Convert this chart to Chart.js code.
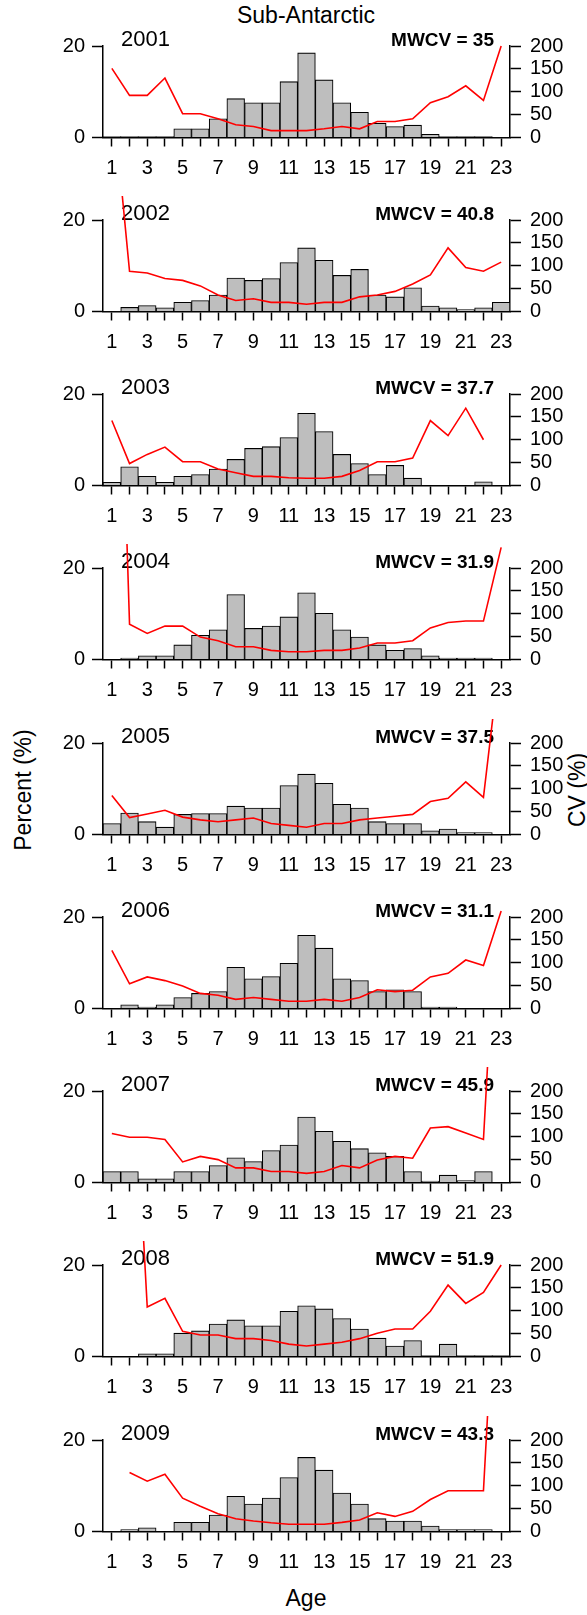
<!DOCTYPE html>
<html>
<head>
<meta charset="utf-8">
<script src="https://cdn.jsdelivr.net/npm/chart.js@4/dist/chart.umd.min.js"></script>
<style>
html,body{margin:0;padding:0;background:#fff;}
body{width:587px;height:1615px;position:relative;overflow:hidden;font-family:"Liberation Sans",Arial,sans-serif;color:#000;}
canvas{position:absolute;left:0;}
.lbl{position:absolute;white-space:nowrap;font-size:23px;line-height:1;}
</style>
</head>
<body>
<div class="lbl" style="left:306px;top:15px;transform:translate(-50%,-50%);">Sub-Antarctic</div>
<div class="lbl" style="left:23px;top:790px;transform:translate(-50%,-50%) rotate(-90deg);">Percent (%)</div>
<div class="lbl" style="left:577px;top:790px;transform:translate(-50%,-50%) rotate(-90deg);">CV (%)</div>
<div class="lbl" style="left:306px;top:1598px;transform:translate(-50%,-50%);">Age</div>
<div id="wrap"></div>
<script>
const ages = ['1','2','3','4','5','6','7','8','9','10','11','12','13','14','15','16','17','18','19','20','21','22','23'];
const years = ['2001','2002','2003','2004','2005','2006','2007','2008','2009'];
const mwcv = ['35','40.8','37.7','31.9','37.5','31.1','45.9','51.9','43.3'];

const pct2001 = [0.2,0.2,0.2,0.2,1.9,1.9,4.1,8.5,7.6,7.6,12.2,18.5,12.6,7.6,5.5,3.1,2.4,2.7,0.7,0.2,0.2,0.2,0.1];
const cv2001  = [151,92,92,130,52,52,41,28,24,15,15,15,19,24,19,35,35,41,76,89,113,81,200];
const pct2002 = [0.1,0.9,1.3,0.8,2.0,2.4,3.6,7.3,6.8,7.2,10.7,13.9,11.2,7.9,9.2,3.6,3.2,5.2,1.2,0.8,0.4,0.8,2.0];
const cv2002  = [490,88,84,72,68,56,36,24,28,20,20,16,20,20,32,36,44,60,80,139,96,88,108];
const pct2003 = [0.7,4.1,2.0,0.7,2.0,2.4,3.6,5.7,8.1,8.5,10.5,15.8,11.8,6.8,4.8,2.4,4.4,1.6,0,0,0,0.8,0];
const cv2003  = [142,48,68,84,52,52,36,28,20,20,17,16,16,20,33,52,52,60,142,109,169,100,null];
const pct2004 = [0,0.3,0.8,0.8,3.2,5.3,6.5,14.2,6.8,7.3,9.3,14.6,10.1,6.5,4.9,3.2,2.0,2.4,0.8,0.3,0.3,0.3,0];
const cv2004  = [1300,77,57,73,73,49,41,28,28,20,17,17,20,20,25,36,36,41,69,81,84,84,245];
const pct2005 = [2.4,4.7,2.8,1.6,4.4,4.6,4.6,6.2,5.8,5.8,10.7,13.2,11.2,6.6,5.8,2.8,2.4,2.4,0.8,1.2,0.4,0.4,0];
const cv2005  = [85,37,45,53,38,32,28,32,36,24,20,16,24,24,32,36,40,44,72,79,115,81,410];
const pct2006 = [0,0.8,0.3,0.8,2.4,3.3,3.7,9.0,6.5,7.0,9.9,16.0,13.2,6.5,6.1,3.7,4.1,3.7,0.3,0.3,0,0,0];
const cv2006  = [127,54,69,61,49,33,29,20,24,20,16,16,20,16,24,41,37,40,69,77,106,94,213];
const pct2007 = [2.4,2.4,0.8,0.8,2.4,2.4,3.7,5.4,4.6,7.0,8.2,14.3,11.2,9.0,7.4,6.5,5.7,2.4,0.3,1.6,0.4,2.4,0];
const cv2007  = [107,99,99,94,45,57,50,32,32,24,24,20,24,37,32,49,57,53,119,122,108,94,790];
const pct2008 = [0,0,0.6,0.6,5.1,5.6,7.1,8.0,6.7,6.7,9.9,11.1,10.4,8.3,6.0,4.0,2.3,3.5,0.2,2.7,0.2,0.2,0.2];
const cv2008  = [null,820,108,127,55,47,47,39,39,35,27,23,27,31,39,51,60,60,99,156,116,140,200];
const pct2009 = [0.1,0.4,0.8,0,2.0,2.0,3.6,7.7,6.0,7.3,11.8,16.2,13.4,8.4,6.0,2.8,2.3,2.3,1.2,0.4,0.4,0.4,0];
const cv2009  = [null,129,110,125,73,55,39,28,23,19,16,16,16,20,25,41,33,44,70,89,89,89,800];

const pctList = [pct2001,pct2002,pct2003,pct2004,pct2005,pct2006,pct2007,pct2008,pct2009];
const cvList  = [cv2001,cv2002,cv2003,cv2004,cv2005,cv2006,cv2007,cv2008,cv2009];

const FONT = '"Liberation Sans", Arial, sans-serif';
Chart.defaults.font.family = FONT;
Chart.defaults.color = '#000';

const panelText = {
  id: 'panelText',
  beforeDatasetsDraw(chart, args, opts) {
    const {ctx, chartArea} = chart;
    ctx.save();
    ctx.fillStyle = '#000';
    ctx.textBaseline = 'alphabetic';
    ctx.font = '22px ' + FONT;
    ctx.textAlign = 'left';
    ctx.fillText(opts.year, 121, chartArea.top);
    ctx.font = 'bold 19px ' + FONT;
    ctx.textAlign = 'right';
    ctx.fillText('MWCV = ' + opts.mwcv, 494, chartArea.top);
    ctx.restore();
  }
};

const PAD_TOP = 26, PLOT_H = 91.5, CAN_H = 175, SPACING = 174.25;
const wrap = document.getElementById('wrap');

years.forEach((yr, k) => {
  const cv = document.createElement('canvas');
  cv.width = 587; cv.height = CAN_H;
  cv.style.width = '587px'; cv.style.height = CAN_H + 'px';
  cv.style.top = Math.round(45.5 - PAD_TOP + SPACING * k) + 'px';
  wrap.appendChild(cv);

  const tickFont = {size: 20, family: FONT};
  new Chart(cv, {
    data: {
      labels: ages,
      datasets: [
        {
          type: 'line', data: cvList[k], yAxisID: 'y1',
          borderColor: '#ff0000', borderWidth: 1.6, pointRadius: 0,
          fill: false, tension: 0, spanGaps: false,
          clip: {left: 5, right: 5, top: 24, bottom: 0}, order: 0
        },
        {
          type: 'bar', data: pctList[k], yAxisID: 'y',
          backgroundColor: '#bebebe', borderColor: '#000', borderWidth: 1.1,
          barPercentage: 1, categoryPercentage: 1, order: 1
        }
      ]
    },
    options: {
      responsive: false, animation: false, devicePixelRatio: 1,
      layout: {padding: {top: PAD_TOP, left: 0, right: 0, bottom: 0}},
      plugins: {
        legend: {display: false}, tooltip: {enabled: false},
        panelText: {year: yr, mwcv: mwcv[k]}
      },
      scales: {
        x: {
          type: 'category', offset: true,
          grid: {display: true, drawOnChartArea: false, drawTicks: true, tickLength: 9,
                 tickWidth: 1.5, tickColor: '#000', offset: false},
          border: {display: true, color: '#000', width: 1.5},
          ticks: {autoSkip: false, maxRotation: 0, minRotation: 0, color: '#000',
                  font: tickFont, padding: 10,
                  callback: (v, i) => (i % 2 === 0 ? ages[i] : '')},
          afterFit: s => { s.height = CAN_H - PAD_TOP - PLOT_H; }
        },
        y: {
          position: 'left', min: 0, max: 20,
          grid: {display: true, drawOnChartArea: false, tickLength: 11, tickWidth: 1.5, tickColor: '#000'},
          border: {display: true, color: '#000', width: 1.5},
          ticks: {stepSize: 20, autoSkip: false, color: '#000', font: tickFont, padding: 7},
          afterFit: s => { s.width = 103; }
        },
        y1: {
          position: 'right', min: 0, max: 200,
          grid: {display: true, drawOnChartArea: false, tickLength: 11, tickWidth: 1.5, tickColor: '#000'},
          border: {display: true, color: '#000', width: 1.5},
          ticks: {stepSize: 50, autoSkip: false, color: '#000', font: tickFont, padding: 9},
          afterFit: s => { s.width = 77; }
        }
      }
    },
    plugins: [panelText]
  });
});
</script>
</body>
</html>
